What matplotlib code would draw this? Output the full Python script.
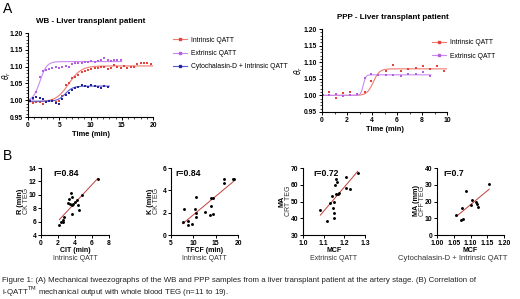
import numpy as np
import matplotlib
matplotlib.use("Agg")
import matplotlib.pyplot as plt
from matplotlib.ticker import MultipleLocator
from matplotlib.lines import Line2D

plt.rcParams['font.family'] = ['Liberation Sans', 'DejaVu Sans']

W, H = 520, 299

# ---------------- Panel A data ----------------
wb_int_t = [0.3, 0.8, 1.3, 1.9, 2.4, 2.9, 3.4, 3.9, 4.4, 4.9, 5.4, 6.0, 6.5, 7.0, 7.5, 8.0, 8.6, 9.1, 9.6,
            10.1, 10.7, 11.2, 11.7, 12.2, 12.8, 13.3, 13.8, 14.3, 14.9, 15.4, 15.9, 16.5, 17.0, 17.5, 18.0,
            18.6, 19.1, 19.6]
wb_int_v = [0.997, 0.993, 0.995, 0.994, 0.990, 0.996, 0.997, 1.000, 0.995, 0.997, 1.013, 1.045, 1.052,
            1.065, 1.070, 1.075, 1.083, 1.087, 1.090, 1.092, 1.095, 1.095, 1.100, 1.098, 1.093, 1.097,
            1.104, 1.100, 1.095, 1.101, 1.097, 1.100, 1.098, 1.108, 1.111, 1.110, 1.112, 1.108]
wb_ext_t = [0.3, 0.8, 1.3, 1.9, 2.4, 2.9, 3.4, 3.9, 4.4, 4.9, 5.4, 6.0, 6.5, 7.0, 7.5, 8.0, 8.6, 9.1, 9.6,
            10.1, 10.7, 11.2, 11.7, 12.2, 12.8, 13.3, 13.8, 14.3, 14.9]
wb_ext_v = [1.000, 1.003, 1.025, 1.068, 1.087, 1.090, 1.093, 1.095, 1.100, 1.097, 1.099, 1.103, 1.100,
            1.108, 1.110, 1.112, 1.110, 1.115, 1.113, 1.118, 1.115, 1.117, 1.120, 1.126, 1.120, 1.117,
            1.120, 1.119, 1.120]
wb_cyt_t = [0.3, 0.8, 1.3, 1.9, 2.4, 2.9, 3.4, 3.9, 4.4, 4.9, 5.4, 6.0, 6.5, 7.0, 7.5, 8.0, 8.6, 9.1, 9.6,
            10.1, 10.7, 11.2, 11.7, 12.2, 12.8]
wb_cyt_v = [0.998, 1.008, 1.010, 1.008, 1.004, 0.996, 0.997, 0.998, 0.993, 0.990, 1.005, 1.015, 1.022,
            1.030, 1.036, 1.040, 1.044, 1.042, 1.040, 1.046, 1.043, 1.040, 1.036, 1.041, 1.039]

ppp_int_t = [0.05, 0.55, 1.1, 1.65, 2.25, 2.8, 3.4, 3.95, 4.5, 5.1, 5.7, 6.3, 6.9, 7.5, 8.05, 8.6, 9.2, 9.75]
ppp_int_v = [1.000, 1.009, 0.993, 1.006, 1.010, 1.003, 1.010, 1.042, 1.060, 1.075, 1.092, 1.072, 1.080,
             1.083, 1.090, 1.080, 1.090, 1.075]
ppp_ext_t = [0.05, 0.55, 1.1, 1.65, 2.25, 2.8, 3.4, 3.95, 4.5, 5.1, 5.7, 6.3, 6.9, 7.5, 8.05, 8.65]
ppp_ext_v = [1.000, 1.000, 1.003, 0.997, 1.002, 1.005, 1.052, 1.063, 1.062, 1.062, 1.060, 1.058, 1.063,
             1.064, 1.070, 1.057]

# sigmoid fit parameters: bottom, top, midpoint, slope, end time
wb_int_fit = (0.995, 1.102, 6.5, 1.0, 20.0)
wb_ext_fit = (0.997, 1.115, 1.9, 0.55, 15.0)
wb_cyt_fit = (0.997, 1.042, 6.0, 0.6, 13.0)
ppp_int_fit = (1.000, 1.080, 4.1, 0.25, 10.0)
ppp_ext_fit = (1.000, 1.062, 3.3, 0.10, 8.7)

series_names = ["Intrinsic QATT", "Extrinsic QATT", "Cytochalasin-D + Intrinsic QATT"]

# ---------------- Panel B data ----------------
cit_x = [6.7, 4.86, 3.53, 3.33, 3.7, 3.2, 3.4, 3.8, 3.6, 4.0, 4.2, 4.4, 4.5, 3.7, 2.55, 2.4, 2.6, 2.7, 2.15]
r_y = [12.3, 9.9, 10.3, 9.3, 9.6, 8.8, 8.7, 8.7, 8.5, 9.0, 9.2, 8.5, 7.8, 7.1, 6.3, 6.0, 5.9, 6.7, 5.5]
tfcf_x = [18.8, 19.1, 16.9, 16.9, 14.3, 13.9, 13.9, 10.6, 8.0, 10.3, 10.6, 12.5, 13.8, 14.5, 10.6, 7.6, 8.7, 9.6, 8.7]
k_y = [5.0, 5.0, 5.0, 4.7, 3.3, 3.3, 2.6, 3.4, 2.3, 2.3, 2.0, 2.1, 1.8, 1.9, 1.6, 1.2, 1.25, 1.0, 0.9]
mcf_ext_x = [1.265, 1.206, 1.158, 1.155, 1.163, 1.206, 1.226, 1.168, 1.158, 1.174, 1.139, 1.152, 1.131,
             1.084, 1.145, 1.15, 1.15, 1.118]
ma_crt_y = [66.8, 64.7, 63.3, 59.9, 61.5, 58.1, 57.7, 54.7, 54.3, 55.3, 53.4, 49.6, 49.4, 45.2, 46.0,
            42.9, 40.1, 38.3]
mcf_cyt_x = [1.156, 1.088, 1.104, 1.101, 1.117, 1.119, 1.121, 1.057, 1.075, 1.073, 1.079]
ma_cff_y = [30.3, 26.5, 21.0, 18.2, 19.7, 18.5, 16.5, 12.0, 16.3, 9.0, 9.4]
r_values = ["r=0.84", "r=0.84", "r=0.72", "r=0.7"]

RED = '#e0443c'
PURPLE = '#b45ee0'
BLUE = '#24249e'
LINE_RED = '#f07a70'
LINE_PURPLE = '#c98af0'
LINE_BLUE = '#5a5ad0'

fig = plt.figure(figsize=(W / 100, H / 100), dpi=100)


def ax_px(left, right, top, bottom):
    return fig.add_axes([left / W, 1 - bottom / H, (right - left) / W, (bottom - top) / H])


def ftext(x, y, s, **kw):
    fig.text(x / W, 1 - y / H, s, **kw)


def style(ax, fs=4.9):
    for s in ['top', 'right']:
        ax.spines[s].set_visible(False)
    for s in ['left', 'bottom']:
        ax.spines[s].set_linewidth(0.8)
    ax.tick_params(which='major', length=2.5, width=0.7, labelsize=fs, pad=1)
    ax.tick_params(which='minor', length=1.3, width=0.5)
    for lab in ax.get_xticklabels() + ax.get_yticklabels():
        lab.set_fontweight('bold')


def sig(params):
    b, t, m, s, end = params
    x = np.linspace(0, end, 300)
    return x, b + (t - b) / (1 + np.exp((m - x) / s))


yt_a = [0.95, 1.00, 1.05, 1.10, 1.15, 1.20]
yt_a_lab = ['0.95', '1.00', '1.05', '1.10', '1.15', '1.20']

# ---- WB ----
ax1 = ax_px(28, 153, 33, 117)
for tt, vv, fit, c, lc in [(wb_int_t, wb_int_v, wb_int_fit, RED, LINE_RED),
                           (wb_ext_t, wb_ext_v, wb_ext_fit, PURPLE, LINE_PURPLE),
                           (wb_cyt_t, wb_cyt_v, wb_cyt_fit, BLUE, LINE_BLUE)]:
    fx, fy = sig(fit)
    ax1.plot(fx, fy, color=lc, lw=0.8)
    ax1.plot(tt, vv, 's', color=c, ms=1.7, mew=0)
ax1.set_xlim(0, 20)
ax1.set_ylim(0.95, 1.20)
ax1.set_xticks([0, 5, 10, 15, 20])
ax1.set_yticks(yt_a)
ax1.set_yticklabels(yt_a_lab)
ax1.xaxis.set_minor_locator(MultipleLocator(1))
ax1.yaxis.set_minor_locator(MultipleLocator(0.01))
style(ax1)
ax1.set_xlabel('Time (min)', fontsize=5.4, fontweight='bold', labelpad=1.5)
ax1.set_title('WB - Liver transplant patient', fontsize=5.75, fontweight='bold', pad=7)
ftext(6.5, 75, r'$\theta_r$', fontsize=5.5, rotation=90, ha='center', va='center')
handles = [Line2D([], [], color=lc, lw=0.8, marker='s', ms=1.8, mfc=c, mec=c)
           for c, lc in [(RED, LINE_RED), (PURPLE, LINE_PURPLE), (BLUE, LINE_BLUE)]]
ax1.legend(handles, series_names, loc='upper left', bbox_to_anchor=(1.14, 0.99), frameon=False,
           fontsize=4.9, handlelength=2.0, handletextpad=0.6, labelspacing=0.95, borderaxespad=0)

# ---- PPP ----
ax2 = ax_px(322, 447, 29, 112)
for tt, vv, fit, c, lc in [(ppp_int_t, ppp_int_v, ppp_int_fit, RED, LINE_RED),
                           (ppp_ext_t, ppp_ext_v, ppp_ext_fit, PURPLE, LINE_PURPLE)]:
    fx, fy = sig(fit)
    ax2.plot(fx, fy, color=lc, lw=0.8)
    ax2.plot(tt, vv, 's', color=c, ms=1.7, mew=0)
ax2.set_xlim(0, 10)
ax2.set_ylim(0.95, 1.20)
ax2.set_xticks([0, 2, 4, 6, 8, 10])
ax2.set_yticks(yt_a)
ax2.set_yticklabels(yt_a_lab)
ax2.xaxis.set_minor_locator(MultipleLocator(1))
ax2.yaxis.set_minor_locator(MultipleLocator(0.01))
style(ax2)
ax2.set_xlabel('Time (min)', fontsize=5.4, fontweight='bold', labelpad=1.5)
ftext(299, 70, r'$\theta_r$', fontsize=5.5, rotation=90, ha='center', va='center')
ax2.set_title('PPP - Liver transplant patient', fontsize=5.75, fontweight='bold', pad=7, x=0.57)
ax2.legend(handles[:2], series_names[:2], loc='upper left', bbox_to_anchor=(0.86, 0.91), frameon=False,
           fontsize=4.9, handlelength=2.0, handletextpad=0.6, labelspacing=0.95, borderaxespad=0)

# ---- Panel B ----
specs = [
    (cit_x, r_y, (41, 109), (0, 8), [0, 2, 4, 6, 8], (4, 14), [4, 6, 8, 10, 12, 14],
     'CIT (min)', 'Intrinsic QATT', 'R (min)', 'CK TEG', r_values[0], 53, None, 75, 5.0),
    (tfcf_x, k_y, (171, 238), (5, 20), [5, 10, 15, 20], (0, 6), [0, 2, 4, 6],
     'TFCF (min)', 'Intrinsic QATT', 'K (min)', 'CK TEG', r_values[1], 175, None, 204, 5.0),
    (mcf_ext_x, ma_crt_y, (303, 365), (1.0, 1.3), [1.0, 1.1, 1.2, 1.3], (30, 70), [30, 40, 50, 60, 70],
     'MCF', 'Extrinsic QATT', 'MA', 'CRT TEG', r_values[2], 313, ['1.0', '1.1', '1.2', '1.3'], 334, 5.0),
    (mcf_cyt_x, ma_cff_y, (437, 504), (1.0, 1.2), [1.00, 1.05, 1.10, 1.15, 1.20], (0, 40), [0, 10, 20, 30, 40],
     'MCF', 'Cytochalasin-D + Intrinsic QATT', 'MA (mm)', 'CFF TEG', r_values[3], 443,
     ['1.00', '1.05', '1.10', '1.15', '1.20'], 453, 5.5),
]
for (xs, ys, (l, r), xl, xt, yl, yt, xlab1, xlab2, ylab1, ylab2, rtxt, rx, xtl, x2c, fs2) in specs:
    ax = ax_px(l, r, 168, 235)
    xs_a, ys_a = np.array(xs), np.array(ys)
    k, b = np.polyfit(xs_a, ys_a, 1)
    lx = np.array([xs_a.min(), xs_a.max()])
    ax.plot(lx, k * lx + b, color='#c0403a', lw=0.7)
    ax.plot(xs_a, ys_a, 'o', color='black', ms=2.1, mew=0)
    ax.set_xlim(*xl)
    ax.set_ylim(*yl)
    ax.set_xticks(xt)
    if xtl:
        ax.set_xticklabels(xtl)
    ax.set_yticks(yt)
    style(ax)
    ftext(rx, 174, rtxt, fontsize=6.2, fontweight='bold', va='center', ha='left')
    cx = (l + r) / 2
    ftext(cx, 250, xlab1, fontsize=5.0, fontweight='bold', ha='center', va='center')
    ftext(x2c, 258.5, xlab2, fontsize=fs2, ha='center', va='center', color='#333333')
    ftext(l - 21, 201, ylab1, fontsize=5.2, fontweight='bold', ha='center', va='center', rotation=90)
    ftext(l - 15, 201, ylab2, fontsize=5.0, ha='center', va='center', rotation=90, color='#333333')

ftext(3, 9, 'A', fontsize=10, va='center', ha='left')
ftext(3, 156, 'B', fontsize=10, va='center', ha='left')

ftext(2, 281, 'Figure 1: (A) Mechanical tweezographs of the WB and PPP samples from a liver transplant patient '
              'at the artery stage. (B) Correlation of', fontsize=5.7, va='center', ha='left', color='#222222')
ftext(2, 292, r'i-QATT$^{\mathrm{TM}}$ mechanical output with whole blood TEG (n=11 to 19).', fontsize=5.7,
      va='center', ha='left', color='#222222')

fig.savefig('out.png', dpi=100)
